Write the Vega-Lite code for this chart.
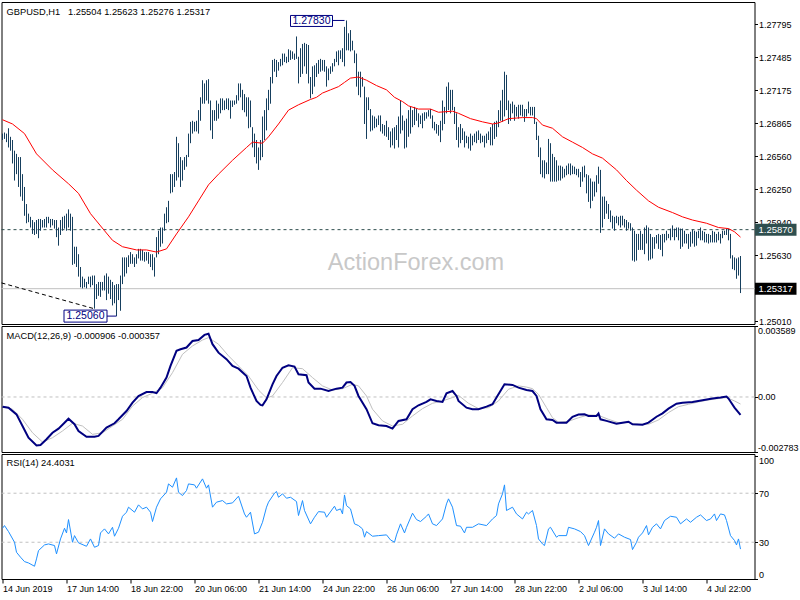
{
  "$schema": "https://vega.github.io/schema/vega-lite/v6.json",
  "background": "white",
  "padding": {"left": -2.5, "top": 1, "right": 0, "bottom": 0},
  "autosize": {"type": "pad"},
  "bounds": "flush",
  "spacing": 2,
  "config": {
    "view": {"stroke": "#000000", "strokeWidth": 1},
    "axis": {"labelFont": "Liberation Sans", "labelFontSize": 9, "labelColor": "#000000", "tickColor": "#000000", "tickWidth": 1, "grid": false, "domain": false},
    "text": {"font": "Liberation Sans"}
  },
  "vconcat": [
    {
      "width": 753,
      "height": 322,
      "layer": [
        {
          "data": {"values": [{}]},
          "mark": {"type": "rule", "color": "#c0c0c0", "strokeWidth": 1},
          "encoding": {"y": {"datum": 1.25317, "type": "quantitative", "title": null, "scale": {"domain": [1.24986, 1.28003], "nice": false, "zero": false}}}
        },
        {
          "data": {"values": [{}]},
          "mark": {"type": "rule", "color": "#2f4f4f", "strokeWidth": 1, "strokeDash": [3, 3]},
          "encoding": {"y": {"datum": 1.2587, "type": "quantitative", "title": null, "scale": {"domain": [1.24986, 1.28003], "nice": false, "zero": false}}}
        },
        {
          "data": {"values": [{}]},
          "mark": {"type": "rule", "color": "#000000", "strokeWidth": 1, "strokeDash": [4, 3]},
          "encoding": {
            "x": {"datum": -0.5, "type": "quantitative", "scale": {"domain": [-0.5, 376], "nice": false, "zero": false}, "axis": null},
            "x2": {"datum": 45.5},
            "y": {"datum": 1.25371, "type": "quantitative", "title": null, "scale": {"domain": [1.24986, 1.28003], "nice": false, "zero": false}},
            "y2": {"datum": 1.25131}
          }
        },
        {
          "data": {"values": [{}]},
          "mark": {"type": "text", "text": "ActionForex.com", "font": "Liberation Sans", "fontSize": 23.5, "color": "#c8c8c8", "align": "center", "baseline": "middle"},
          "encoding": {
            "x": {"datum": 206.75, "type": "quantitative", "scale": {"domain": [-0.5, 376], "nice": false, "zero": false}, "axis": null},
            "y": {"datum": 1.25555, "type": "quantitative", "title": null, "scale": {"domain": [1.24986, 1.28003], "nice": false, "zero": false}}
          }
        },
        {
          "data": {
            "values": "i,h,l\n0,1.2677,1.2671\n1,1.2678,1.2672\n2,1.2677,1.2669\n3,1.2682,1.2664\n4,1.2674,1.2661\n5,1.2671,1.2649\n6,1.2661,1.2633\n7,1.2658,1.2639\n8,1.2655,1.2627\n9,1.2655,1.2618\n10,1.2639,1.2614\n11,1.2627,1.2600\n12,1.2611,1.2593\n13,1.2602,1.2594\n14,1.2599,1.2589\n15,1.2596,1.2583\n16,1.2594,1.2582\n17,1.2596,1.2583\n18,1.2597,1.2579\n19,1.2597,1.2586\n20,1.2596,1.2589\n21,1.2597,1.2589\n22,1.2599,1.2589\n23,1.2599,1.2593\n24,1.2597,1.2589\n25,1.2597,1.2591\n26,1.2596,1.2588\n27,1.2596,1.2580\n28,1.2589,1.2572\n29,1.2596,1.2582\n30,1.2599,1.2586\n31,1.2600,1.2588\n32,1.2602,1.2586\n33,1.2606,1.2589\n34,1.2602,1.2586\n35,1.2599,1.2554\n36,1.2571,1.2555\n37,1.2571,1.2552\n38,1.2564,1.2543\n39,1.2552,1.2533\n40,1.2543,1.2532\n41,1.2541,1.2533\n42,1.2538,1.2532\n43,1.2543,1.2536\n44,1.2543,1.2533\n45,1.2544,1.2535\n46,1.2544,1.2513\n47,1.2536,1.2522\n48,1.2538,1.2525\n49,1.2538,1.2524\n50,1.2538,1.2530\n51,1.2544,1.2530\n52,1.2546,1.2521\n53,1.2543,1.2527\n54,1.2540,1.2522\n55,1.2538,1.2516\n56,1.2535,1.2518\n57,1.2536,1.2506\n58,1.2536,1.2521\n59,1.2544,1.2511\n60,1.2561,1.2536\n61,1.2561,1.2543\n62,1.2561,1.2546\n63,1.2563,1.2552\n64,1.2566,1.2555\n65,1.2564,1.2555\n66,1.2561,1.2552\n67,1.2564,1.2555\n68,1.2569,1.2560\n69,1.2569,1.2558\n70,1.2568,1.2558\n71,1.2566,1.2557\n72,1.2566,1.2558\n73,1.2566,1.2555\n74,1.2564,1.2552\n75,1.2564,1.2549\n76,1.2561,1.2543\n77,1.2580,1.2561\n78,1.2586,1.2564\n79,1.2589,1.2571\n80,1.2589,1.2574\n81,1.2602,1.2586\n82,1.2608,1.2593\n83,1.2614,1.2594\n84,1.2639,1.2621\n85,1.2639,1.2622\n86,1.2641,1.2627\n87,1.2674,1.2633\n88,1.2668,1.2636\n89,1.2655,1.2627\n90,1.2652,1.2633\n91,1.2655,1.2643\n92,1.2657,1.2646\n93,1.2677,1.2655\n94,1.2688,1.2668\n95,1.2689,1.2677\n96,1.2688,1.2679\n97,1.2689,1.2679\n98,1.2699,1.2677\n99,1.2711,1.2689\n100,1.2727,1.2705\n101,1.2724,1.2705\n102,1.2727,1.2708\n103,1.2728,1.2705\n104,1.2708,1.2680\n105,1.2699,1.2672\n106,1.2699,1.2689\n107,1.2708,1.2689\n108,1.2705,1.2691\n109,1.2710,1.2696\n110,1.2710,1.2699\n111,1.2708,1.2699\n112,1.2710,1.2700\n113,1.2710,1.2699\n114,1.2708,1.2691\n115,1.2708,1.2702\n116,1.2708,1.2704\n117,1.2713,1.2705\n118,1.2724,1.2708\n119,1.2724,1.2711\n120,1.2718,1.2699\n121,1.2714,1.2697\n122,1.2711,1.2693\n123,1.2711,1.2682\n124,1.2708,1.2683\n125,1.2683,1.2664\n126,1.2677,1.2655\n127,1.2671,1.2649\n128,1.2664,1.2643\n129,1.2671,1.2652\n130,1.2693,1.2655\n131,1.2699,1.2671\n132,1.2710,1.2680\n133,1.2718,1.2699\n134,1.2730,1.2705\n135,1.2746,1.2724\n136,1.2747,1.2735\n137,1.2746,1.2730\n138,1.2744,1.2736\n139,1.2747,1.2740\n140,1.2752,1.2741\n141,1.2752,1.2744\n142,1.2749,1.2743\n143,1.2756,1.2744\n144,1.2755,1.2746\n145,1.2754,1.2747\n146,1.2752,1.2746\n147,1.2768,1.2747\n148,1.2749,1.2724\n149,1.2757,1.2730\n150,1.2761,1.2733\n151,1.2762,1.2740\n152,1.2761,1.2733\n153,1.2760,1.2724\n154,1.2730,1.2710\n155,1.2740,1.2714\n156,1.2741,1.2721\n157,1.2743,1.2730\n158,1.2746,1.2733\n159,1.2747,1.2735\n160,1.2746,1.2736\n161,1.2746,1.2735\n162,1.2740,1.2721\n163,1.2738,1.2727\n164,1.2740,1.2733\n165,1.2743,1.2735\n166,1.2747,1.2740\n167,1.2754,1.2744\n168,1.2755,1.2741\n169,1.2755,1.2747\n170,1.2757,1.2744\n171,1.2777,1.2740\n172,1.2783,1.2755\n173,1.2771,1.2755\n174,1.2774,1.2754\n175,1.2764,1.2755\n176,1.2755,1.2743\n177,1.2752,1.2721\n178,1.2735,1.2713\n179,1.2735,1.2711\n180,1.2730,1.2721\n181,1.2721,1.2686\n182,1.2711,1.2672\n183,1.2711,1.2699\n184,1.2700,1.2679\n185,1.2694,1.2680\n186,1.2693,1.2682\n187,1.2691,1.2683\n188,1.2694,1.2685\n189,1.2694,1.2679\n190,1.2686,1.2677\n191,1.2685,1.2675\n192,1.2689,1.2674\n193,1.2683,1.2671\n194,1.2679,1.2664\n195,1.2682,1.2666\n196,1.2683,1.2663\n197,1.2685,1.2671\n198,1.2693,1.2664\n199,1.2708,1.2677\n200,1.2694,1.2680\n201,1.2689,1.2663\n202,1.2691,1.2664\n203,1.2699,1.2674\n204,1.2702,1.2677\n205,1.2699,1.2683\n206,1.2702,1.2685\n207,1.2700,1.2689\n208,1.2696,1.2683\n209,1.2694,1.2686\n210,1.2696,1.2682\n211,1.2697,1.2689\n212,1.2697,1.2691\n213,1.2699,1.2693\n214,1.2700,1.2691\n215,1.2694,1.2682\n216,1.2688,1.2680\n217,1.2686,1.2677\n218,1.2685,1.2675\n219,1.2689,1.2669\n220,1.2708,1.2680\n221,1.2702,1.2686\n222,1.2721,1.2696\n223,1.2725,1.2699\n224,1.2718,1.2696\n225,1.2718,1.2699\n226,1.2702,1.2686\n227,1.2696,1.2671\n228,1.2683,1.2664\n229,1.2686,1.2668\n230,1.2682,1.2671\n231,1.2679,1.2664\n232,1.2675,1.2668\n233,1.2674,1.2663\n234,1.2677,1.2661\n235,1.2675,1.2666\n236,1.2677,1.2669\n237,1.2679,1.2668\n238,1.2680,1.2671\n239,1.2677,1.2668\n240,1.2675,1.2669\n241,1.2675,1.2664\n242,1.2677,1.2668\n243,1.2679,1.2671\n244,1.2683,1.2666\n245,1.2686,1.2666\n246,1.2688,1.2672\n247,1.2689,1.2674\n248,1.2699,1.2683\n249,1.2708,1.2689\n250,1.2718,1.2688\n251,1.2735,1.2693\n252,1.2732,1.2699\n253,1.2708,1.2686\n254,1.2705,1.2689\n255,1.2707,1.2696\n256,1.2704,1.2689\n257,1.2702,1.2693\n258,1.2704,1.2691\n259,1.2704,1.2694\n260,1.2704,1.2693\n261,1.2700,1.2688\n262,1.2700,1.2693\n263,1.2707,1.2696\n264,1.2702,1.2694\n265,1.2702,1.2694\n266,1.2702,1.2686\n267,1.2688,1.2671\n268,1.2675,1.2655\n269,1.2664,1.2639\n270,1.2652,1.2636\n271,1.2652,1.2635\n272,1.2650,1.2639\n273,1.2672,1.2639\n274,1.2668,1.2632\n275,1.2658,1.2632\n276,1.2655,1.2632\n277,1.2652,1.2632\n278,1.2647,1.2633\n279,1.2647,1.2633\n280,1.2646,1.2635\n281,1.2644,1.2636\n282,1.2647,1.2638\n283,1.2649,1.2639\n284,1.2649,1.2638\n285,1.2647,1.2639\n286,1.2646,1.2639\n287,1.2644,1.2638\n288,1.2644,1.2636\n289,1.2641,1.2627\n290,1.2646,1.2632\n291,1.2647,1.2636\n292,1.2639,1.2621\n293,1.2638,1.2613\n294,1.2635,1.2607\n295,1.2632,1.2614\n296,1.2632,1.2618\n297,1.2638,1.2622\n298,1.2646,1.2630\n299,1.2643,1.2584\n300,1.2618,1.2589\n301,1.2618,1.2597\n302,1.2614,1.2602\n303,1.2611,1.2597\n304,1.2605,1.2594\n305,1.2600,1.2588\n306,1.2599,1.2586\n307,1.2600,1.2593\n308,1.2599,1.2591\n309,1.2600,1.2589\n310,1.2600,1.2591\n311,1.2597,1.2589\n312,1.2596,1.2586\n313,1.2594,1.2588\n314,1.2593,1.2586\n315,1.2589,1.2558\n316,1.2586,1.2557\n317,1.2583,1.2558\n318,1.2583,1.2568\n319,1.2586,1.2568\n320,1.2583,1.2568\n321,1.2589,1.2564\n322,1.2591,1.2574\n323,1.2589,1.2558\n324,1.2583,1.2559\n325,1.2580,1.2560\n326,1.2580,1.2569\n327,1.2582,1.2574\n328,1.2583,1.2569\n329,1.2582,1.2568\n330,1.2583,1.2562\n331,1.2583,1.2575\n332,1.2586,1.2577\n333,1.2583,1.2579\n334,1.2588,1.2577\n335,1.2591,1.2580\n336,1.2588,1.2577\n337,1.2589,1.2580\n338,1.2589,1.2577\n339,1.2588,1.2569\n340,1.2588,1.2571\n341,1.2586,1.2574\n342,1.2583,1.2574\n343,1.2583,1.2569\n344,1.2585,1.2571\n345,1.2587,1.2574\n346,1.2586,1.2571\n347,1.2585,1.2572\n348,1.2586,1.2579\n349,1.2589,1.2577\n350,1.2586,1.2577\n351,1.2585,1.2575\n352,1.2583,1.2575\n353,1.2583,1.2574\n354,1.2582,1.2575\n355,1.2586,1.2575\n356,1.2585,1.2575\n357,1.2583,1.2575\n358,1.2585,1.2577\n359,1.2583,1.2574\n360,1.2586,1.2579\n361,1.2586,1.2582\n362,1.2588,1.2582\n363,1.2588,1.2577\n364,1.2583,1.2560\n365,1.2563,1.2550\n366,1.2561,1.2549\n367,1.2560,1.2541\n368,1.2561,1.2544\n369,1.25623,1.25276",
            "format": {"type": "csv", "parse": {"i": "number", "h": "number", "l": "number"}}
          },
          "mark": {"type": "rule", "color": "#163f5e", "strokeWidth": 1},
          "encoding": {
            "x": {"field": "i", "type": "quantitative", "scale": {"domain": [-0.5, 376], "nice": false, "zero": false}, "axis": null},
            "y": {"field": "h", "type": "quantitative", "title": null, "scale": {"domain": [1.24986, 1.28003], "nice": false, "zero": false},
              "axis": {"orient": "right", "title": null, "values": [1.2501, 1.2563, 1.2594, 1.2625, 1.2656, 1.26865, 1.27175, 1.27485, 1.27795], "labelExpr": "format(datum.value, '.5f')", "tickSize": 3, "labelPadding": 1, "labelOverlap": false, "labelBound": false, "labelFlush": false}},
            "y2": {"field": "l"}
          }
        },
        {
          "data": {
            "values": "i,v\n0,1.2690\n5,1.2686\n11,1.2677\n17,1.2658\n25,1.2643\n33,1.2630\n38,1.2621\n44,1.2602\n51,1.2586\n55,1.2577\n60,1.2571\n67,1.2568\n72,1.2568\n77,1.2566\n82,1.2569\n87,1.2583\n93,1.2599\n98,1.2614\n103,1.2629\n108,1.2639\n115,1.2652\n122,1.2664\n125,1.2669\n130,1.2668\n133,1.2674\n138,1.2686\n143,1.2699\n148,1.2704\n154,1.2709\n157,1.2711\n160,1.2715\n164,1.2718\n168,1.2721\n171,1.2725\n174,1.2729\n178,1.2730\n182,1.2727\n187,1.2722\n192,1.2718\n196,1.2711\n200,1.2707\n203,1.2703\n208,1.2700\n214,1.2700\n218,1.2697\n225,1.2698\n228,1.2696\n234,1.2691\n240,1.2688\n245,1.2686\n248,1.2687\n253,1.2691\n260,1.2692\n265,1.2692\n267,1.2691\n270,1.2685\n275,1.2682\n280,1.2674\n285,1.2669\n290,1.2664\n295,1.2658\n300,1.2654\n307,1.2643\n312,1.2633\n317,1.2624\n323,1.2614\n328,1.2608\n335,1.2603\n340,1.2599\n345,1.2596\n352,1.2593\n358,1.2589\n363,1.2588\n366,1.2585\n369,1.2580",
            "format": {"type": "csv", "parse": {"i": "number", "v": "number"}}
          },
          "mark": {"type": "line", "color": "#ff0000", "strokeWidth": 1},
          "encoding": {
            "x": {"field": "i", "type": "quantitative", "scale": {"domain": [-0.5, 376], "nice": false, "zero": false}, "axis": null},
            "y": {"field": "v", "type": "quantitative", "title": null, "scale": {"domain": [1.24986, 1.28003], "nice": false, "zero": false}}
          }
        },
        {
          "data": {"values": [{"i": 172, "p": 1.2783, "label": "1.27830"}]},
          "layer": [
            {
              "mark": {"type": "rule", "color": "#000080", "strokeWidth": 1, "xOffset": -14, "x2Offset": -2},
              "encoding": {
                "x": {"field": "i", "type": "quantitative", "scale": {"domain": [-0.5, 376], "nice": false, "zero": false}, "axis": null},
                "x2": {"field": "i"},
                "y": {"field": "p", "type": "quantitative", "title": null, "scale": {"domain": [1.24986, 1.28003], "nice": false, "zero": false}}
              }
            },
            {
              "mark": {"type": "rect", "fill": "#ffffff", "stroke": "#000080", "strokeWidth": 1, "xOffset": -56, "x2Offset": -14, "yOffset": -5, "y2Offset": 6},
              "encoding": {
                "x": {"field": "i", "type": "quantitative", "scale": {"domain": [-0.5, 376], "nice": false, "zero": false}, "axis": null},
                "x2": {"field": "i"},
                "y": {"field": "p", "type": "quantitative", "title": null, "scale": {"domain": [1.24986, 1.28003], "nice": false, "zero": false}},
                "y2": {"field": "p"}
              }
            },
            {
              "mark": {"type": "text", "font": "Liberation Sans", "fontSize": 10.5, "color": "#000080", "align": "center", "baseline": "middle", "dx": -35, "dy": 0.5},
              "encoding": {
                "x": {"field": "i", "type": "quantitative", "scale": {"domain": [-0.5, 376], "nice": false, "zero": false}, "axis": null},
                "y": {"field": "p", "type": "quantitative", "title": null, "scale": {"domain": [1.24986, 1.28003], "nice": false, "zero": false}},
                "text": {"field": "label"}
              }
            }
          ]
        },
        {
          "data": {"values": [{"i": 57, "p": 1.2506, "label": "1.25060"}]},
          "layer": [
            {
              "mark": {"type": "rule", "color": "#000080", "strokeWidth": 1, "xOffset": -9.5, "x2Offset": 0},
              "encoding": {
                "x": {"field": "i", "type": "quantitative", "scale": {"domain": [-0.5, 376], "nice": false, "zero": false}, "axis": null},
                "x2": {"field": "i"},
                "y": {"field": "p", "type": "quantitative", "title": null, "scale": {"domain": [1.24986, 1.28003], "nice": false, "zero": false}}
              }
            },
            {
              "mark": {"type": "rect", "fill": "#ffffff", "stroke": "#000080", "strokeWidth": 1, "xOffset": -52.5, "x2Offset": -9.5, "yOffset": -6, "y2Offset": 6},
              "encoding": {
                "x": {"field": "i", "type": "quantitative", "scale": {"domain": [-0.5, 376], "nice": false, "zero": false}, "axis": null},
                "x2": {"field": "i"},
                "y": {"field": "p", "type": "quantitative", "title": null, "scale": {"domain": [1.24986, 1.28003], "nice": false, "zero": false}},
                "y2": {"field": "p"}
              }
            },
            {
              "mark": {"type": "text", "font": "Liberation Sans", "fontSize": 10.5, "color": "#000080", "align": "center", "baseline": "middle", "dx": -31, "dy": 0},
              "encoding": {
                "x": {"field": "i", "type": "quantitative", "scale": {"domain": [-0.5, 376], "nice": false, "zero": false}, "axis": null},
                "y": {"field": "p", "type": "quantitative", "title": null, "scale": {"domain": [1.24986, 1.28003], "nice": false, "zero": false}},
                "text": {"field": "label"}
              }
            }
          ]
        },
        {
          "data": {"values": [{"p": 1.2587, "label": "1.25870", "kind": "level"}, {"p": 1.25317, "label": "1.25317", "kind": "bid"}]},
          "layer": [
            {
              "mark": {"type": "rect", "xOffset": 0.5, "x2Offset": 42, "yOffset": -6, "y2Offset": 6},
              "encoding": {
                "x": {"datum": 376, "type": "quantitative", "scale": {"domain": [-0.5, 376], "nice": false, "zero": false}, "axis": null},
                "x2": {"datum": 376},
                "y": {"field": "p", "type": "quantitative", "title": null, "scale": {"domain": [1.24986, 1.28003], "nice": false, "zero": false}},
                "y2": {"field": "p"},
                "fill": {"field": "kind", "type": "nominal", "scale": {"domain": ["level", "bid"], "range": ["#2f4f4f", "#000000"]}, "legend": null}
              }
            },
            {
              "mark": {"type": "text", "font": "Liberation Sans", "fontSize": 9.5, "color": "#ffffff", "align": "left", "baseline": "middle", "dx": 4},
              "encoding": {
                "x": {"datum": 376, "type": "quantitative", "scale": {"domain": [-0.5, 376], "nice": false, "zero": false}, "axis": null},
                "y": {"field": "p", "type": "quantitative", "title": null, "scale": {"domain": [1.24986, 1.28003], "nice": false, "zero": false}},
                "text": {"field": "label"}
              }
            }
          ]
        },
        {
          "data": {"values": [{}]},
          "mark": {"type": "text", "text": "GBPUSD,H1\u00a0\u00a0 1.25504 1.25623 1.25276 1.25317", "font": "Liberation Sans", "fontSize": 9.3, "color": "#000000", "align": "left", "baseline": "middle", "dx": 5, "dy": 9.5},
          "encoding": {
            "x": {"datum": -0.5, "type": "quantitative", "scale": {"domain": [-0.5, 376], "nice": false, "zero": false}, "axis": null},
            "y": {"datum": 1.28003, "type": "quantitative", "title": null, "scale": {"domain": [1.24986, 1.28003], "nice": false, "zero": false}}
          }
        }
      ]
    },
    {
      "width": 753,
      "height": 126,
      "layer": [
        {
          "data": {"values": [{}]},
          "mark": {"type": "rule", "color": "#c0c0c0", "strokeWidth": 1, "strokeDash": [3, 3]},
          "encoding": {"y": {"datum": 0, "type": "quantitative", "title": null, "scale": {"domain": [-0.002783, 0.003589], "nice": false, "zero": false}}}
        },
        {
          "data": {
            "values": "i,s\n0,-0.00046\n5,-0.00062\n10,-0.00113\n15,-0.00181\n20,-0.00228\n25,-0.00206\n30,-0.00172\n35,-0.00133\n40,-0.00147\n45,-0.00189\n50,-0.00181\n55,-0.00147\n60,-0.00113\n65,-0.00046\n70,-0.00003\n75,0.00019\n80,0.00047\n85,0.00123\n90,0.00216\n95,0.00258\n100,0.00288\n103,0.00300\n108,0.00267\n113,0.00208\n118,0.00157\n123,0.00106\n128,0.00035\n132,-0.00005\n135,0.00005\n140,0.00073\n145,0.00148\n150,0.00143\n155,0.00098\n160,0.00056\n165,0.00035\n170,0.00042\n175,0.00064\n178,0.00056\n182,0.00005\n185,-0.00062\n190,-0.00121\n195,-0.00147\n200,-0.00138\n205,-0.00096\n210,-0.00059\n215,-0.00032\n220,-0.00020\n225,-0.00003\n228,0.00008\n233,-0.00032\n238,-0.00059\n243,-0.00054\n248,-0.00020\n253,0.00039\n258,0.00056\n262,0.00050\n265,0.00042\n268,0.00013\n272,-0.00054\n275,-0.00105\n278,-0.00127\n283,-0.00123\n288,-0.00105\n293,-0.00091\n298,-0.00093\n303,-0.00113\n308,-0.00130\n313,-0.00130\n318,-0.00138\n323,-0.00138\n328,-0.00116\n333,-0.00079\n338,-0.00049\n343,-0.00037\n348,-0.00025\n353,-0.00015\n358,-0.00008\n362,-0.00003\n366,-0.00020\n369,-0.000357",
            "format": {"type": "csv", "parse": {"i": "number", "s": "number"}}
          },
          "mark": {"type": "line", "color": "#c0c0c0", "strokeWidth": 1},
          "encoding": {
            "x": {"field": "i", "type": "quantitative", "scale": {"domain": [-0.5, 376], "nice": false, "zero": false}, "axis": null},
            "y": {"field": "s", "type": "quantitative", "title": null, "scale": {"domain": [-0.002783, 0.003589], "nice": false, "zero": false}}
          }
        },
        {
          "data": {
            "values": "i,m\n0,-0.00049\n3,-0.00054\n7,-0.00088\n10,-0.00147\n13,-0.00206\n17,-0.00245\n19,-0.00243\n22,-0.00214\n25,-0.00181\n28,-0.00160\n31,-0.00130\n33,-0.00110\n36,-0.00138\n38,-0.00172\n42,-0.00201\n46,-0.00201\n48,-0.00197\n52,-0.00155\n56,-0.00133\n58,-0.00113\n62,-0.00071\n65,-0.00029\n68,0.00005\n72,0.00025\n75,0.00025\n77,0.00019\n79,0.00047\n82,0.00098\n84,0.00157\n87,0.00233\n89,0.00241\n92,0.00250\n95,0.00283\n98,0.00288\n101,0.00314\n103,0.00320\n105,0.00267\n108,0.00224\n112,0.00191\n115,0.00157\n118,0.00143\n122,0.00106\n124,0.00047\n127,-0.00020\n129,-0.00040\n130,-0.00042\n132,-0.00012\n133,0.00013\n135,0.00064\n137,0.00106\n140,0.00148\n143,0.00160\n146,0.00154\n148,0.00115\n152,0.00110\n153,0.00073\n156,0.00042\n159,0.00042\n163,0.00030\n167,0.00042\n170,0.00047\n172,0.00073\n174,0.00076\n176,0.00056\n178,0.00005\n182,-0.00062\n185,-0.00133\n188,-0.00143\n192,-0.00147\n195,-0.00160\n198,-0.00121\n202,-0.00113\n205,-0.00062\n208,-0.00042\n212,-0.00025\n214,-0.00012\n217,-0.00020\n220,-0.00025\n222,0.00019\n225,0.00030\n227,0.00005\n228,-0.00020\n232,-0.00054\n235,-0.00062\n238,-0.00062\n242,-0.00049\n245,-0.00037\n247,-0.00003\n251,0.00064\n255,0.00061\n258,0.00047\n262,0.00035\n265,0.00030\n267,0.00005\n269,-0.00062\n272,-0.00113\n275,-0.00116\n277,-0.00130\n282,-0.00130\n285,-0.00100\n288,-0.00089\n291,-0.00088\n293,-0.00096\n297,-0.00096\n298,-0.00084\n299,-0.00113\n302,-0.00121\n307,-0.00135\n310,-0.00130\n313,-0.00125\n315,-0.00138\n320,-0.00140\n323,-0.00130\n327,-0.00100\n330,-0.00083\n333,-0.00059\n337,-0.00034\n340,-0.00029\n345,-0.00025\n350,-0.00017\n355,-0.00008\n359,-0.00003\n362,0.00002\n363,-0.00008\n366,-0.00054\n369,-0.000906",
            "format": {"type": "csv", "parse": {"i": "number", "m": "number"}}
          },
          "mark": {"type": "line", "color": "#000080", "strokeWidth": 2},
          "encoding": {
            "x": {"field": "i", "type": "quantitative", "scale": {"domain": [-0.5, 376], "nice": false, "zero": false}, "axis": null},
            "y": {"field": "m", "type": "quantitative", "title": null, "scale": {"domain": [-0.002783, 0.003589], "nice": false, "zero": false},
              "axis": {"orient": "right", "title": null, "values": [-0.002783, 0, 0.003589], "labelExpr": "datum.value > 0.001 ? '0.003589' : (datum.value < -0.001 ? '-0.002783' : '0.00')", "labelFlush": true, "tickSize": 3, "labelPadding": 0, "labelOverlap": false, "labelBound": false}}
          }
        },
        {
          "data": {"values": [{}]},
          "mark": {"type": "text", "text": "MACD(12,26,9) -0.000906 -0.000357", "font": "Liberation Sans", "fontSize": 9.3, "color": "#000000", "align": "left", "baseline": "middle", "dx": 5, "dy": 9.5},
          "encoding": {
            "x": {"datum": -0.5, "type": "quantitative", "scale": {"domain": [-0.5, 376], "nice": false, "zero": false}, "axis": null},
            "y": {"datum": 0.003589, "type": "quantitative", "title": null, "scale": {"domain": [-0.002783, 0.003589], "nice": false, "zero": false}}
          }
        }
      ]
    },
    {
      "width": 753,
      "height": 125,
      "layer": [
        {
          "data": {"values": [{"lv": 70}, {"lv": 30}]},
          "mark": {"type": "rule", "color": "#c0c0c0", "strokeWidth": 1, "strokeDash": [3, 3]},
          "encoding": {"y": {"field": "lv", "type": "quantitative", "title": null, "scale": {"domain": [0, 102], "nice": false, "zero": false}}}
        },
        {
          "data": {
            "values": "i,r\n0,41.4\n1,43.6\n3,38.7\n6,30.0\n7,21.8\n9,17.8\n11,14.2\n13,13.1\n16,10.4\n17,16.4\n18,23.2\n21,27.8\n23,28.6\n26,27.3\n27,20.5\n29,32.7\n31,41.4\n32,37.6\n33,48.5\n35,30.0\n36,35.4\n38,29.5\n42,26.7\n44,32.7\n46,25.9\n48,27.3\n49,37.6\n51,40.9\n53,36.8\n55,42.2\n56,34.9\n58,41.4\n60,51.2\n62,54.5\n63,58.6\n66,54.5\n68,60.5\n70,57.2\n72,58.6\n74,54.5\n75,46.9\n77,58.6\n79,65.4\n82,70.8\n83,77.6\n85,74.9\n87,82.5\n88,70.8\n90,68.1\n92,72.2\n93,77.6\n96,76.8\n97,74.1\n100,81.7\n102,74.1\n103,76.8\n105,58.6\n107,62.7\n110,64.0\n112,61.3\n115,62.1\n118,67.6\n121,53.1\n122,50.4\n124,54.5\n126,36.8\n128,38.2\n130,46.3\n132,58.6\n133,62.7\n136,70.0\n137,71.4\n138,66.7\n140,69.5\n142,65.9\n144,66.7\n147,63.2\n148,51.8\n150,64.0\n151,55.9\n154,45.0\n156,50.4\n158,55.0\n161,54.5\n162,50.4\n166,59.4\n167,55.9\n169,57.2\n170,53.1\n171,68.6\n172,59.9\n174,57.2\n176,45.0\n178,43.6\n180,40.9\n181,34.1\n182,38.7\n185,34.9\n188,35.4\n192,36.0\n194,31.9\n196,30.0\n197,36.0\n199,45.0\n201,37.6\n202,42.2\n205,53.7\n207,48.5\n209,46.9\n212,51.2\n213,53.1\n215,45.0\n217,43.6\n220,49.0\n222,61.3\n223,65.4\n225,58.6\n227,43.6\n229,43.1\n231,37.6\n232,42.2\n235,42.2\n238,45.0\n242,43.6\n245,49.0\n247,51.8\n248,61.3\n250,69.5\n251,76.8\n252,55.9\n255,58.6\n257,53.1\n260,49.0\n262,54.5\n263,53.1\n265,55.9\n267,43.6\n268,32.7\n270,28.6\n271,27.3\n273,40.9\n274,42.2\n277,34.1\n278,35.4\n282,35.4\n283,42.2\n286,40.9\n289,38.7\n291,35.4\n293,27.3\n296,38.2\n297,42.2\n298,47.7\n299,27.3\n301,40.9\n303,36.8\n306,33.3\n308,36.8\n311,34.1\n314,32.2\n315,24.0\n317,30.0\n318,34.1\n320,37.6\n322,43.6\n323,36.0\n325,42.2\n327,45.0\n329,40.9\n331,47.7\n334,51.2\n337,50.4\n339,45.0\n342,49.0\n344,46.3\n347,50.4\n349,52.3\n352,47.7\n354,49.0\n356,53.1\n357,47.7\n359,53.1\n361,52.3\n362,47.7\n364,35.4\n366,31.4\n367,27.8\n368,32.7\n369,24.4",
            "format": {"type": "csv", "parse": {"i": "number", "r": "number"}}
          },
          "mark": {"type": "line", "color": "#1e90ff", "strokeWidth": 1},
          "encoding": {
            "x": {"field": "i", "type": "quantitative", "title": null, "scale": {"domain": [-0.5, 376], "nice": false, "zero": false},
              "axis": {"orient": "bottom", "title": null, "values": [0, 32, 64, 96, 128, 160, 192, 224, 256, 288, 320, 352], "labelExpr": "['14 Jun 2019','17 Jun 14:00','18 Jun 22:00','20 Jun 06:00','21 Jun 14:00','24 Jun 22:00','26 Jun 06:00','27 Jun 14:00','28 Jun 22:00','2 Jul 06:00','3 Jul 14:00','4 Jul 22:00'][round(datum.value/32)]", "labelAlign": "left", "labelBaseline": "top", "tickSize": 4, "labelPadding": 1, "labelOverlap": false, "labelBound": false, "labelFlush": false}},
            "y": {"field": "r", "type": "quantitative", "title": null, "scale": {"domain": [0, 102], "nice": false, "zero": false},
              "axis": {"orient": "right", "title": null, "values": [0, 30, 70, 100], "labelBaseline": {"condition": [{"test": "datum.value >= 100", "value": "top"}, {"test": "datum.value <= 0", "value": "bottom"}], "value": "middle"}, "tickSize": 3, "labelPadding": 1, "labelOverlap": false, "labelBound": false, "labelFlush": false}}
          }
        },
        {
          "data": {"values": [{}]},
          "mark": {"type": "text", "text": "RSI(14) 24.4031", "font": "Liberation Sans", "fontSize": 9.3, "color": "#000000", "align": "left", "baseline": "middle", "dx": 5, "dy": 9},
          "encoding": {
            "x": {"datum": -0.5, "type": "quantitative", "title": null, "scale": {"domain": [-0.5, 376], "nice": false, "zero": false}},
            "y": {"datum": 102, "type": "quantitative", "title": null, "scale": {"domain": [0, 102], "nice": false, "zero": false}}
          }
        }
      ]
    }
  ]
}
